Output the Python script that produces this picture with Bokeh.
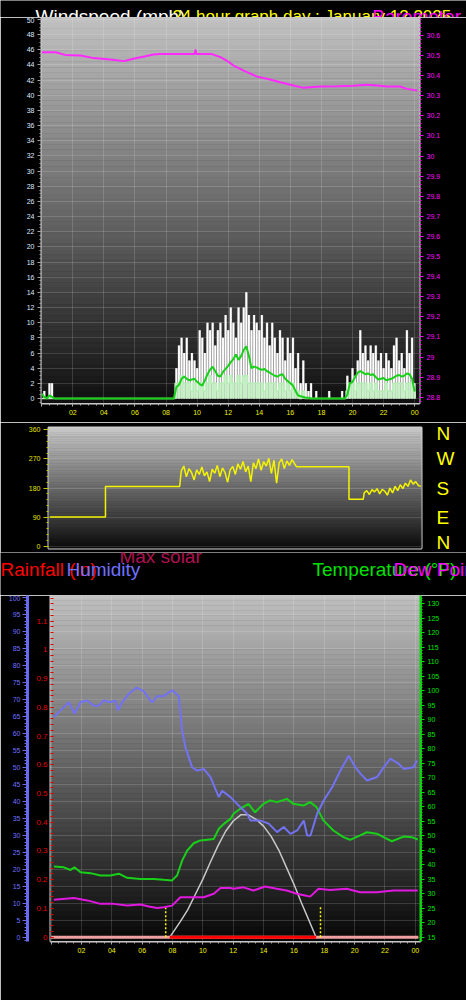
import numpy as np
from bokeh.plotting import figure
from bokeh.layouts import column, row
from bokeh.models import (Range1d, LinearAxis, SingleIntervalTicker, FixedTicker,
                          CustomJSTickFormatter)
from bokeh.core.properties import value
from bokeh.embed import file_html
from bokeh.resources import INLINE

FONT = "Liberation Sans"
W = 466

# ---------------- data ----------------
# wind (mph), ten-minute samples 00:00 .. 24:00
wind_gust = ([0, 1, 0, 2, 2, 0] + [0] * 46 +
             [4, 7, 8, 6, 8, 5, 6, 5, 4, 9, 8, 6, 10, 9, 10, 7, 9, 10, 8, 11,
              9, 12, 10, 8, 12, 10, 12, 14, 11, 9, 11, 10, 9, 11, 8, 10, 7, 10,
              8, 6, 9, 8, 5, 8, 6, 8, 4, 6, 2, 5, 2, 1, 2, 0, 1, 0] +
             [0, 0, 0, 1, 0, 0, 0, 0, 1, 0] +
             [3, 2, 4, 3, 5, 9, 6, 7, 5, 7, 6, 7, 5, 6, 4, 6, 5, 4, 7, 8, 5, 6,
              4, 9, 6, 8, 2])
wind_speed = ([0] * 52 +
              [2, 2, 3, 2, 2, 2, 1, 2, 1, 2, 2, 1, 2, 3, 2, 2, 1, 2, 2, 3, 2, 3,
               2, 2, 3, 2, 3, 3, 2, 2, 2, 2, 2, 2, 1, 2, 2, 2, 2, 1, 2, 2, 1, 2,
               1, 2, 1, 1, 0, 1, 0, 0, 0, 0, 0, 0] +
              [0] * 10 +
              [1, 2, 2, 1, 2, 2, 2, 2, 1, 2, 1, 2, 1, 1, 1, 2, 1, 1, 2, 2, 2, 2,
               1, 2, 2, 2, 1])
wind_avg = ([0.6, 0.2, 0, 0.4, 0.2, 0] + [0] * 46 +
            [1.5, 1.8, 2.6, 2.9, 2.6, 2.4, 2.5, 2.6, 2.2, 1.9, 1.7, 2.4, 3.2, 3.8,
             4.2, 3.6, 3.0, 2.9, 3.5, 3.9, 4.3, 4.8, 5.2, 5.8, 5.1, 5.6, 6.4, 6.9,
             5.6, 4.0, 4.2, 4.1, 3.9, 3.8, 3.9, 3.6, 3.4, 3.2, 3.0, 2.9, 3.1, 3.2,
             2.6, 2.3, 2.0, 1.7, 1.0, 0.4, 0.3, 0.2, 0.1, 0.1, 0, 0, 0, 0] +
            [0] * 10 +
            [0.5, 2.0, 2.2, 2.8, 3.4, 3.6, 3.4, 3.2, 3.3, 3.1, 3.2, 2.8, 2.5, 2.6,
             2.7, 2.4, 2.5, 2.6, 2.8, 3.0, 3.1, 2.9, 3.0, 3.3, 3.2, 2.6, 0.9])
wind_t = np.arange(len(wind_gust)) / 6.0

# barometer (inHg)
baro_t = [0.0, 0.9, 1.5, 2.5, 3.35, 4.4, 5.3, 5.9, 6.6, 7.2, 7.6, 8.7, 9.85,
          9.9, 9.95, 10.9, 11.5, 11.9, 12.35, 13.0, 13.85, 14.5, 15.35, 16.2,
          16.85, 17.9, 19.0, 20.05, 20.9, 21.6, 22.2, 23.05, 23.5, 24.15]
baro_v = [30.516, 30.516, 30.503, 30.500, 30.487, 30.480, 30.472, 30.484,
          30.495, 30.505, 30.508, 30.508, 30.508, 30.530, 30.508, 30.508,
          30.492, 30.475, 30.450, 30.425, 30.395, 30.384, 30.367, 30.351,
          30.339, 30.346, 30.347, 30.349, 30.354, 30.351, 30.346, 30.346,
          30.334, 30.326]

# wind direction (degrees)
dir_gusty_am = [232, 248, 215, 240, 228, 205, 236, 222, 245, 218,
                230, 200, 238, 226, 250, 215, 242, 228, 198, 236,
                247, 222, 255, 238, 262, 230, 248, 200, 258, 240,
                270, 235, 262, 248, 272, 225, 266, 195, 258, 270,
                240, 264, 250, 268, 255]
dir_gusty_pm = [165, 172, 160, 175, 168, 178, 162, 176, 170, 158, 180, 165,
                185, 172, 190, 178, 195, 185, 205, 192, 200, 188, 185]
dir_t = ([0.0, 3.6, 3.6, 8.4] + list(8.5 + np.arange(len(dir_gusty_am)) / 6.0) +
         [15.95, 19.35, 19.35, 20.27] +
         list(20 + 2 / 6.0 + np.arange(len(dir_gusty_pm)) / 6.0))
dir_v = [90, 90, 185, 185] + dir_gusty_am + [246, 246, 145, 145] + dir_gusty_pm
compass = ["N", "W", "S", "E", "N"]
compass_deg = [360, 270, 180, 90, 0]

# humidity (%)
hum_t = [0.18, 0.5, 1.17, 1.54, 1.94, 2.38, 2.81, 3.14, 3.47, 3.91, 4.24, 4.4,
         4.68, 5.12, 5.63, 6.1, 6.55, 6.66, 6.99, 7.42, 7.75, 7.98, 8.41, 8.63,
         8.85, 9.07, 9.29, 9.62, 10.06, 10.5, 11.05, 11.27, 11.82, 12.37,
         12.92, 13.14, 13.79, 14.34, 14.89, 15.33, 15.77, 16.21, 16.65, 16.87,
         17.09, 17.53, 17.96, 18.52, 19.06, 19.61, 20.05, 20.38, 20.82, 21.48,
         21.92, 22.36, 22.9, 23.23, 23.89, 24.1]
hum_v = [64.7, 66.2, 69.1, 65.7, 69.1, 69.6, 68.1, 68.1, 69.6, 69.1, 69.6, 66.7,
         69.1, 71.6, 73.4, 72.4, 69.6, 69.1, 70.9, 70.9, 72.0, 72.6, 70.9, 60.8,
         55.9, 52.9, 50.0, 49.0, 49.5, 47.1, 41.2, 43.1, 41.2, 38.7, 36.3, 34.3,
         34.3, 33.4, 30.9, 32.4, 30.4, 31.4, 34.3, 29.9, 29.9, 36.3, 40.2, 44.1,
         49.0, 53.4, 50.0, 48.1, 46.1, 47.1, 50.0, 52.5, 51.0, 49.5, 50.0, 52.0]

# temperature and dew point (deg F)
temp_t = [0.18, 0.84, 1.28, 1.54, 1.94, 2.6, 3.25, 3.91, 4.46, 5.01, 5.89, 6.77,
          7.42, 7.97, 8.3, 8.64, 8.97, 9.4, 9.84, 10.72, 11.05, 11.38, 11.82,
          12.02, 12.46, 13.0, 13.44, 13.99, 14.43, 14.87, 15.53, 15.97, 16.63,
          17.07, 17.5, 17.94, 18.6, 19.26, 19.7, 20.36, 20.8, 21.46, 21.9,
          22.45, 23.22, 23.77, 24.16]
temp_v = [39.4, 39.1, 38.2, 39.1, 37.4, 37.1, 36.3, 36.3, 36.9, 35.5, 35.1, 35.1,
          34.8, 34.6, 36.3, 41.5, 44.9, 47.4, 48.4, 48.9, 52.4, 54.1, 55.8, 57.6,
          59.3, 61.0, 58.1, 61.0, 62.2, 61.6, 62.7, 61.0, 60.4, 61.6, 59.8, 55.3,
          51.8, 49.5, 48.6, 50.1, 51.2, 50.7, 49.5, 48.1, 49.7, 49.5, 48.7]
dew_t = [0.18, 1.5, 2.38, 3.25, 4.13, 5.01, 5.89, 6.44, 6.99, 7.42, 7.97, 8.52,
         9.18, 10.06, 10.72, 11.16, 11.82, 12.02, 12.67, 13.33, 14.1, 14.87,
         15.53, 16.19, 16.74, 17.07, 17.62, 18.38, 19.48, 20.36, 21.46, 22.56,
         24.16]
dew_v = [27.9, 28.5, 27.7, 26.5, 26.5, 25.9, 26.3, 25.6, 25.1, 25.3, 25.9, 28.8,
         28.8, 28.8, 30.0, 32.0, 32.0, 31.7, 32.2, 31.1, 32.5, 31.7, 31.1, 30.0,
         29.4, 29.0, 31.7, 31.3, 31.7, 30.5, 30.5, 31.1, 31.1]

# solar (W/m2): theoretical maximum and measured
solar_t = [7.82, 8.0, 8.5, 9.0, 9.5, 10.0, 10.5, 11.0, 11.5, 12.0, 12.5, 13.0,
           13.5, 14.0, 14.5, 15.0, 15.5, 16.0, 16.5, 17.0, 17.46]
solar_max = [0, 12, 45, 80, 125, 170, 220, 268, 310, 340, 358, 358, 345, 325,
             295, 255, 205, 155, 100, 48, 0]
solar_rad = [0] * len(solar_t)

# rainfall (in)
rain_t = [0.0, 24.2]
rain_v = [0.0, 0.0]

# sunrise / sunset (hours)
sun_t = [7.55, 17.75]
SUN_MARK_H = 9.0  # marker height, humidity units

# header texts
title_texts = ["Windspeed (mph)", "24 hour graph day : January 12 2025", "Barometer (in)"]
title_colors = ["#ffffff", "#ffff00", "#ff00ff"]
title_sizes = ["19px", "17px", "19px"]
title_x = [-0.40, 8.41, 21.27]          # hours, top panel scale
legend_texts = ["Rainfall (in)", "Humidity", "Temperature (°F)", "Dew Point (°F)"]
legend_colors = ["#ff0000", "#7070ff", "#00e000", "#ff00ff"]
legend_x = [-3.33, 1.01, 17.22, 22.56]  # hours, bottom panel scale


# ---------------- helpers ----------------
def hour_fmt():
    return CustomJSTickFormatter(code="""
        if (tick < 1) { return ''; }
        const h = Math.round(tick) % 24;
        return (h < 10 ? '0' : '') + h;""")


def dec_fmt():
    return CustomJSTickFormatter(code="return (Math.round(tick*10)/10).toString();")


def style_axis(ax, label_color, tick_color, size="7px", tick_out=4, tick_in=0,
               minor_out=2, minor_in=0, line_color=None, line_width=1, standoff=3):
    ax.axis_line_color = line_color
    ax.axis_line_width = line_width
    ax.major_tick_line_color = tick_color
    ax.minor_tick_line_color = tick_color
    ax.major_tick_out = tick_out
    ax.major_tick_in = tick_in
    ax.minor_tick_out = minor_out
    ax.minor_tick_in = minor_in
    ax.major_label_text_color = label_color
    ax.major_label_text_font = FONT
    ax.major_label_text_font_size = size
    ax.major_label_standoff = standoff


def add_background(p, xr, yr, top_gray, bottom_gray, n=70):
    edges = np.linspace(yr.start, yr.end, n + 1)
    g = np.linspace(bottom_gray, top_gray, n).round().astype(int)
    cols = ["#%02x%02x%02x" % (v, v, v) for v in g]
    p.quad(left=xr.start, right=xr.end, bottom=edges[:-1], top=edges[1:],
           fill_color=cols, line_color=cols, line_width=0.6, level="image")


def base_fig(width, height, xr, yr, mb_l, mb_r, mb_t, mb_b, **kw):
    p = figure(width=width, height=height, x_range=xr, y_range=yr,
               output_backend="svg", toolbar_location=None,
               min_border_left=mb_l, min_border_right=mb_r,
               min_border_top=mb_t, min_border_bottom=mb_b,
               background_fill_color="black", border_fill_color="black",
               outline_line_color="#d4d4d4", outline_line_width=2, **kw)
    p.title.visible = False
    return p


def strip_fig(width, height, xr, yr):
    p = figure(width=width, height=height, x_range=xr, y_range=yr,
               output_backend="svg", toolbar_location=None,
               x_axis_location=None, y_axis_location=None,
               min_border_left=0, min_border_right=0, min_border_top=0,
               min_border_bottom=0, background_fill_color="black",
               border_fill_color="black", outline_line_color=None)
    p.title.visible = False
    p.xgrid.visible = False
    p.ygrid.visible = False
    return p


def grid_style(g):
    g.grid_line_color = "white"
    g.grid_line_alpha = 0.3
    g.grid_line_dash = "1 1"


# ---------------- header strip (titles) ----------------
h1 = strip_fig(W, 17, Range1d(-2.651, 27.334), Range1d(50.26, 52.5))
for s, c, fs, x in zip(title_texts, title_colors, title_sizes, title_x):
    h1.text(x=[x], y=[50.36], text=[s], text_color=c, text_font=value(FONT),
            text_font_size=fs, text_baseline="alphabetic")

# ---------------- panel 1: wind speed + barometer ----------------
x1 = Range1d(-0.013, 24.31)
y1 = Range1d(-0.66, 50.26)
p1 = base_fig(W, 405, x1, y1, 41, 47, 0, 19)
p1.extra_y_ranges = {"baro": Range1d(28.769, 30.689)}
add_background(p1, x1, y1, 192, 16)

p1.varea_step(x=wind_t, y1=0, y2=wind_gust, step_mode="center",
              fill_color="#c8c8c8", fill_alpha=0.6)
p1.vbar(x=wind_t, top=wind_gust, bottom=0, width=0.12,
        fill_color="white", line_color=None)
p1.vbar(x=wind_t, top=wind_speed, bottom=0, width=0.15,
        fill_color="#c6f2c6", line_color=None)
p1.step(x=wind_t, y=wind_speed, mode="center", line_color="#b8ecb8", line_width=1.5)
p1.line(wind_t, wind_avg, line_color="#18d018", line_width=2)
p1.line(baro_t, baro_v, y_range_name="baro", line_color="#ff28ff", line_width=2)

xt1 = SingleIntervalTicker(interval=2, num_minor_ticks=4)
p1.xaxis.ticker = xt1
p1.xaxis.formatter = hour_fmt()
style_axis(p1.xaxis[0], "#f0f000", "#b0b0b0", tick_out=3, line_color="#c8c8c8")
yt1 = SingleIntervalTicker(interval=2, num_minor_ticks=4)
p1.yaxis.ticker = yt1
style_axis(p1.yaxis[0], "#dce8ff", "#a0a0a0")
p1.xgrid.ticker = xt1
p1.ygrid.ticker = yt1
grid_style(p1.xgrid[0])
grid_style(p1.ygrid[0])

bax = LinearAxis(y_range_name="baro",
                 ticker=SingleIntervalTicker(interval=0.1, num_minor_ticks=5),
                 formatter=dec_fmt())
style_axis(bax, "#ff00ff", "#ff00ff")
p1.add_layout(bax, "right")

# ---------------- panel 2: wind direction ----------------
x2 = Range1d(-0.084, 24.04)
y2 = Range1d(-7.1, 367.2)
p2 = base_fig(W, 130, x2, y2, 48, 45, 5, 4, x_axis_location=None)
add_background(p2, x2, y2, 200, 12)
p2.line(dir_t, dir_v, line_color="#f4f400", line_width=1.5)
yt2 = SingleIntervalTicker(interval=90, num_minor_ticks=5)
p2.yaxis.ticker = yt2
style_axis(p2.yaxis[0], "#e0e000", "#c8c800", tick_out=5)
p2.ygrid.ticker = yt2
grid_style(p2.ygrid[0])
p2.xgrid.visible = False

cax = LinearAxis(ticker=FixedTicker(ticks=compass_deg, minor_ticks=[]),
                 major_label_overrides=dict(zip(compass_deg, compass)))
style_axis(cax, "#ffff00", None, size="19px", tick_out=0, minor_out=0, standoff=15)
p2.add_layout(cax, "right")

# ---------------- header strip (legend texts) ----------------
h3 = strip_fig(W, 43, Range1d(-3.334, 27.37), Range1d(100.5, 113.15))
h3.text(x=[4.5], y=[109.0], text=["Max solar"], text_color="#b01050",
        text_font=value(FONT), text_font_size="19px")
for s, c, x in zip(legend_texts, legend_colors, legend_x):
    h3.text(x=[x], y=[105.1], text=[s], text_color=c, text_font=value(FONT),
            text_font_size="19px")

# ---------------- panel 3: rain / humidity / temperature ----------------
x3 = Range1d(-0.04, 24.34)
y3 = Range1d(-1.26, 100.5)  # humidity
p3 = base_fig(W, 405, x3, y3, 50, 46, 0, 59)
p3.extra_y_ranges = {"rain": Range1d(-0.015, 1.1893),
                     "temp": Range1d(13.52, 132.87),
                     "solar": Range1d(-12.6, 1000)}
add_background(p3, x3, y3, 190, 8)

p3.line(solar_t, solar_max, y_range_name="solar", line_color="#c8c8c8", line_width=1.5)
p3.line(rain_t, rain_v, y_range_name="rain", line_color="#f0a0a0", line_width=3)
p3.line(solar_t, solar_rad, y_range_name="solar", line_color="#ff0000", line_width=3)
p3.segment(x0=sun_t, y0=0, x1=sun_t, y1=SUN_MARK_H, line_color="#ffff00",
           line_width=1.5, line_dash="2 2")
p3.line(temp_t, temp_v, y_range_name="temp", line_color="#18d018", line_width=2)
p3.line(dew_t, dew_v, y_range_name="temp", line_color="#e018e0", line_width=2)
p3.line(hum_t, hum_v, line_color="#7272f2", line_width=2)

xt3 = SingleIntervalTicker(interval=2, num_minor_ticks=4)
p3.xaxis.ticker = xt3
p3.xaxis.formatter = hour_fmt()
style_axis(p3.xaxis[0], "#f0f000", "#b0b0b0", tick_out=3, line_color="#c8c8c8")
p3.xgrid.ticker = xt3
grid_style(p3.xgrid[0])

yt3 = SingleIntervalTicker(interval=5, num_minor_ticks=5)
hum_ax = p3.yaxis[0]
hum_ax.ticker = yt3
style_axis(hum_ax, "#7070ff", "#6a6af0", tick_out=5, minor_out=3,
           line_color="#6a6af0", line_width=3, standoff=2)
p3.ygrid.ticker = yt3
grid_style(p3.ygrid[0])

rain_ax = LinearAxis(y_range_name="rain",
                     ticker=SingleIntervalTicker(interval=0.1, num_minor_ticks=5),
                     formatter=dec_fmt(), axis_label=" ",
                     axis_label_text_font_size="1px", axis_label_standoff=2)
style_axis(rain_ax, "#e00000", "#e00000", size="8px", tick_out=0, tick_in=3,
           minor_out=0, minor_in=3, standoff=3)
p3.left = [rain_ax, hum_ax]

temp_ax = LinearAxis(y_range_name="temp",
                     ticker=SingleIntervalTicker(interval=5, num_minor_ticks=5))
style_axis(temp_ax, "#00e000", "#00e000", line_color="#00e000", line_width=2)
p3.add_layout(temp_ax, "right")

layout = column(row(h1), row(p1), row(p2), row(h3), row(p3), spacing=0)
open("out.html", "w").write(file_html(layout, INLINE))
